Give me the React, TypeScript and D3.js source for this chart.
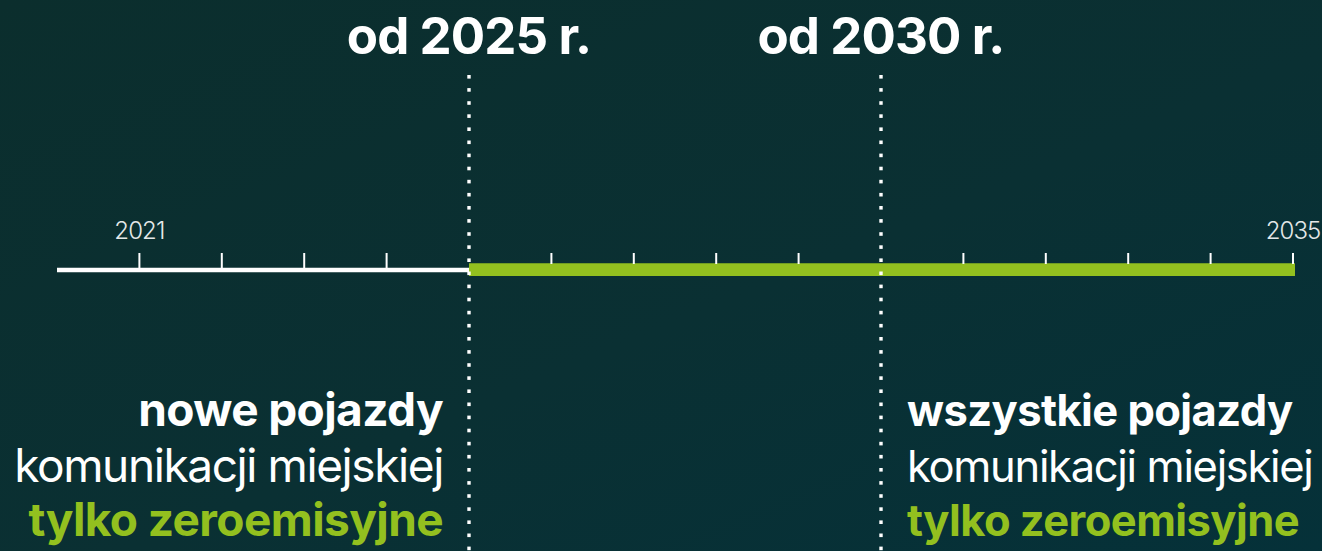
import React from "react";
import * as d3 from "d3";

const W = 1322;
const H = 551;

const yearDomain = [2020, 2035];
const tickYears = d3.range(2021, 2036);
const labeledYears = [2021, 2035];
const milestoneYears = [2025, 2030];
const milestoneTitles = ["od 2025 r.", "od 2030 r."];
const leftLines = ["nowe pojazdy", "komunikacji miejskiej", "tylko zeroemisyjne"];
const rightLines = ["wszystkie pojazdy", "komunikacji miejskiej", "tylko zeroemisyjne"];
const lineWeights = [700, 400, 700];

const GREEN = "#93c01f";
const FONT = "Inter, 'Liberation Sans', sans-serif";

export default function App() {
  const x = d3.scaleLinear().domain(yearDomain).range([57, 1293]);
  const axisY = 270;
  const startGreen = milestoneYears[0];
  const lineColor = (i: number) => (i === 2 ? GREEN : "#ffffff");
  const dotYs = d3.range(75, H, 13.1);
  const baselines = [426, 482, 536];
  const spacings = [-0.6, -1.4, -0.6];

  const block = (lines: string[], xPos: number, anchor: string, size: number, key: string) =>
    lines.map((t, i) => (
      <text
        key={key + i}
        x={xPos}
        y={baselines[i]}
        textAnchor={anchor}
        fill={lineColor(i)}
        fontFamily={FONT}
        fontSize={size}
        fontWeight={lineWeights[i]}
        letterSpacing={spacings[i] * (size / 46)}
      >
        {t}
      </text>
    ));

  return (
    <svg
      width={W}
      height={H}
      style={{ position: "absolute", left: 0, top: 0, display: "block" }}
    >
      <defs>
        <linearGradient id="bg" x1="0" y1="0" x2="1" y2="1">
          <stop offset="0%" stopColor="#0b2e2d" />
          <stop offset="55%" stopColor="#0a3033" />
          <stop offset="100%" stopColor="#053139" />
        </linearGradient>
      </defs>
      <rect width={W} height={H} fill="url(#bg)" />

      <line
        x1={x(yearDomain[0])}
        x2={x(startGreen)}
        y1={axisY}
        y2={axisY}
        stroke="#fff"
        strokeWidth={4.7}
      />
      <line
        x1={x(startGreen)}
        x2={x(yearDomain[1]) + 2}
        y1={axisY - 0.3}
        y2={axisY - 0.3}
        stroke={GREEN}
        strokeWidth={12.7}
      />

      {tickYears
        .filter((y) => !milestoneYears.includes(y))
        .map((yr) => (
          <line
            key={yr}
            x1={x(yr)}
            x2={x(yr)}
            y1={253}
            y2={yr < startGreen ? axisY - 2 : axisY - 6}
            stroke="#fff"
            strokeWidth={2}
          />
        ))}

      {labeledYears.map((yr) => (
        <text
          key={yr}
          x={x(yr)}
          y={239}
          textAnchor="middle"
          fill="#e4e8e8"
          fontFamily={FONT}
          fontSize={24}
          fontWeight={300}
          letterSpacing={-0.9}
        >
          {yr}
        </text>
      ))}

      {milestoneYears.map((yr, i) => (
        <g key={yr}>
          {dotYs.map((dy) => (
            <rect key={dy} x={x(yr) - 1.7} y={dy} width={3.4} height={3.6} fill="#fff" />
          ))}
          <text
            x={x(yr)}
            y={54}
            textAnchor="middle"
            fill="#fff"
            fontFamily={FONT}
            fontSize={51}
            fontWeight={700}
            letterSpacing={-0.9}
          >
            {milestoneTitles[i]}
          </text>
        </g>
      ))}

      {block(leftLines, 443, "end", 46, "l")}
      {block(rightLines, 907, "start", 43.5, "r")}
    </svg>
  );
}
